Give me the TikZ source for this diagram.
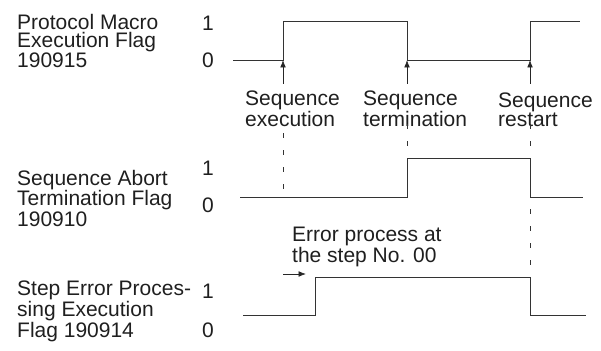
\documentclass[tikz,border=0pt]{standalone}
\usepackage{fontspec}
\setmainfont{Liberation Sans}
\usetikzlibrary{positioning, arrows.meta}

\begin{document}
\begin{tikzpicture}[
    x=1pt, y=-1pt,
    font=\fontsize{21}{18.7}\selectfont,
    every node/.style={align=left, inner sep=0pt, text=black!88},
    %% flag name on the left (anchored at its last line)
    flagname/.style={anchor=base west},
    %% logic level 1 / 0
    level/.style={anchor=base},
    %% event caption under the top signal
    event/.style={anchor=base west},
    %% timing waveform
    signal/.style={line width=0.85pt, draw=black!80, line join=miter},
    %% event pointer
    trigger/.style={-{Latex[length=2.6mm, width=2mm]}, line width=0.75pt, draw=black!85},
    %% guide line between signals
    guide/.style={line width=0.7pt, draw=black!80, dash pattern=on 5pt off 12pt}
]
\useasboundingbox (0,0) rectangle (601,350);

%%-------------------------------------------------------------- nodes
\node[flagname] (macroflag) at (17,68)  {Protocol Macro\\Execution Flag\\190915};
\node[flagname] (abortflag) at (17,226) {Sequence Abort\\Termination Flag\\190910};
\node[flagname] (errorflag) at (17,337) {Step Error Proces-\\sing Execution\\Flag 190914};

\node[level] (macro1) at (208,31)  {1};
\node[level] (macro0) at (208,68)  {0};
\node[level] (abort1) at (208,175) {1};
\node[level] (abort0) at (208,212) {0};
\node[level] (error1) at (208,298) {1};
\node[level] (error0) at (208,337) {0};

\node[event] (execlabel) at (245,126) {Sequence\\execution};
\node[event] (termlabel) at (363,126) {Sequence\\termination};
\node[event] (restlabel) at (498,126) {Sequence\\restart};

\node[event] (steplabel) at (292,262) {Error process at\\the step No. 00};

%%-------------------------------------------------------------- points
\coordinate (macrorise)  at (283,60);
\coordinate (macrofall)  at (407,60);
\coordinate (macrorise2) at (530,60);
\coordinate (exectail)   at (283,84);
\coordinate (termtail)   at (407,84);
\coordinate (resttail)   at (530,84);
\coordinate (aborthigh)  at (407,158);
\coordinate (errorhigh)  at (530,277);
\coordinate (steptail)   at (283,274);
\coordinate (steptip)    at (306,274);

%%-------------------------------------------------------------- signals
% protocol macro execution flag
\draw[signal] (233,60) -- (macrorise) -- (283,21) -- (407,21)
    -- (macrofall) -- (macrorise2) -- (530,21) -- (580,21);

% sequence abort termination flag
\draw[signal] (240,197) -- (407,197) -- (aborthigh) -- (530,158)
    -- (530,197) -- (583,197);

% step error processing execution flag
\draw[signal] (243,315) -- (315,315) -- (315,277) -- (errorhigh)
    -- (530,315) -- (586,315);

%%-------------------------------------------------------------- edges
% events point at the edges of the top signal
\draw[trigger] (exectail) -- (macrorise);
\draw[trigger] (termtail) -- (macrofall);
\draw[trigger] (resttail) -- (macrorise2);

% error process start
\draw[trigger] (steptail) -- (steptip);

% guide lines down from the captions
\draw[guide] (283,133) -- (283,190);
\draw[guide] (407,124) -- (aborthigh);
\draw[guide] (530,124) -- (errorhigh);

\end{tikzpicture}
\end{document}
